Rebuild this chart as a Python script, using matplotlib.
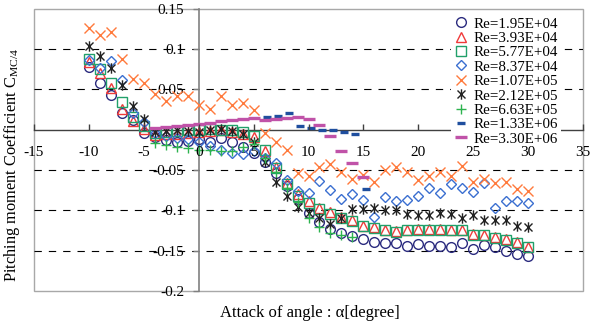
import matplotlib.pyplot as plt
from matplotlib.patches import Rectangle
from matplotlib.path import Path

plt.rcParams["font.family"] = ["Liberation Serif", "DejaVu Serif"]
plt.rcParams["mathtext.fontset"] = "custom"
plt.rcParams["mathtext.rm"] = "Liberation Serif"
plt.rcParams["axes.unicode_minus"] = False

# angle of attack [deg] for the low-Re runs
alpha = list(range(-10, 31))

cm_195e4 = [0.077, 0.058, 0.043, 0.021, 0.012, -0.004, -0.009, -0.013, -0.016, -0.014,
            -0.012, -0.016, -0.010, -0.016, -0.021, -0.029, -0.040, -0.054, -0.070, -0.086,
            -0.103, -0.114, -0.123, -0.128, -0.132, -0.136, -0.139, -0.140, -0.140, -0.144,
            -0.142, -0.144, -0.144, -0.146, -0.141, -0.148, -0.143, -0.145, -0.150, -0.154,
            -0.157]
cm_393e4 = [0.084, 0.070, 0.051, 0.026, 0.011, 0.001, -0.007, -0.006, -0.005, -0.004,
            -0.003, -0.002, -0.001, -0.003, -0.005, -0.009, -0.026, -0.046, -0.066, -0.080,
            -0.089, -0.097, -0.102, -0.108, -0.112, -0.119, -0.121, -0.124, -0.126, -0.124,
            -0.123, -0.123, -0.123, -0.124, -0.124, -0.129, -0.130, -0.133, -0.136, -0.139,
            -0.145]
cm_577e4 = [0.087, 0.075, 0.058, 0.034, 0.015, 0.004, -0.004, -0.003, -0.002, -0.001,
            0.000, 0.001, 0.000, 0.000, -0.003, -0.008, -0.025, -0.047, -0.068, -0.082,
            -0.091, -0.099, -0.104, -0.109, -0.113, -0.120, -0.122, -0.125, -0.127, -0.125,
            -0.124, -0.124, -0.124, -0.125, -0.125, -0.130, -0.131, -0.134, -0.137, -0.141,
            -0.146]
cm_837e4 = [0.086, 0.076, 0.085, 0.062, 0.021, 0.009, -0.004, -0.008, -0.010, -0.012,
            -0.016, -0.020, -0.025, -0.029, -0.030, -0.027, -0.035, -0.041, -0.062, -0.076,
            -0.078, -0.064, -0.075, -0.086, -0.080, -0.087, -0.108, -0.084, -0.089, -0.087,
            -0.082, -0.072, -0.078, -0.067, -0.072, -0.077, -0.066, -0.097, -0.088, -0.088,
            -0.091]
cm_107e5 = [0.126, 0.117, 0.121, 0.088, 0.063, 0.058, 0.044, 0.036, 0.041, 0.041,
            0.030, 0.026, 0.042, 0.031, 0.033, 0.024, -0.004, -0.016, -0.025, -0.054,
            -0.058, -0.046, -0.043, -0.053, -0.061, -0.056, -0.065, -0.050, -0.046, -0.053,
            -0.063, -0.057, -0.053, -0.058, -0.045, -0.065, -0.061, -0.066, -0.065, -0.074,
            -0.076]
cm_212e5 = [0.104, 0.091, 0.076, 0.055, 0.029, 0.013, -0.003, -0.002, -0.001, -0.002,
            -0.003, -0.001, 0.001, -0.002, -0.006, -0.016, -0.040, -0.065, -0.082, -0.096,
            -0.103, -0.110, -0.117, -0.110, -0.099, -0.098, -0.097, -0.100, -0.100, -0.105,
            -0.106, -0.106, -0.103, -0.105, -0.109, -0.106, -0.112, -0.112, -0.112, -0.119,
            -0.121]

alpha_663e5 = list(range(-4, 15))
cm_663e5 = [-0.017, -0.019, -0.021, -0.023, -0.025, -0.025, -0.026, -0.026, -0.022, -0.018,
            -0.035, -0.053, -0.072, -0.090, -0.109, -0.121, -0.128, -0.131, -0.133]

alpha_133e6 = [6.2, 7.2, 8.2, 9.2, 10.2, 11.2, 12.2, 13.2, 14.2, 15.2]
cm_133e6 = [0.016, 0.017, 0.020, 0.005, 0.002, -0.001, -0.001, -0.003, -0.006, -0.074]

alpha_330e6 = list(range(-4, 16))
cm_330e6 = [0.002, 0.003, 0.005, 0.006, 0.007, 0.008, 0.010, 0.012, 0.013, 0.014,
            0.012, 0.013, 0.014, 0.015, 0.013, 0.006, -0.008, -0.027, -0.042, -0.059]

# Excel-style "star": an x with a vertical bar through it
ASTERISK = Path([(-1, -1), (1, 1), (-1, 1), (1, -1), (0, -1.3), (0, 1.3)],
                [Path.MOVETO, Path.LINETO] * 3)

series = [
    (alpha, cm_195e4, "Re=1.95E+04", "o", "#2B2B7F", 7.0, 1.0),
    (alpha, cm_393e4, "Re=3.93E+04", "^", "#F03A3A", 7.0, 1.0),
    (alpha, cm_577e4, "Re=5.77E+04", "s", "#21A06A", 6.5, 1.0),
    (alpha, cm_837e4, "Re=8.37E+04", "D", "#3B6FD0", 5.0, 1.0),
    (alpha, cm_107e5, "Re=1.07E+05", "x", "#FF7A3C", 7.5, 1.0),
    (alpha, cm_212e5, "Re=2.12E+05", ASTERISK, "#222222", 7.5, 1.0),
    (alpha_663e5, cm_663e5, "Re=6.63E+05", "+", "#2DB34F", 7.5, 1.0),
    (alpha_133e6, cm_133e6, "Re=1.33E+06", "_", "#1F4E9E", 5.5, 2.4),
    (alpha_330e6, cm_330e6, "Re=3.30E+06", "_", "#C052A8", 8.0, 2.4),
]

fig = plt.figure(figsize=(5.9, 3.27), dpi=100)
ax = fig.add_axes([34 / 590, 1 - 291 / 327, (583 - 34) / 590, (291 - 8.5) / 327])
ax.set_xlim(-15, 35)
ax.set_ylim(-0.2, 0.15)

for y in [0.1, 0.05, -0.05, -0.1, -0.15]:
    ax.axhline(y, color="black", lw=0.8, ls=(0, (6.6, 6.3)), zorder=1)

for x, y, label, marker, color, ms, mew in series:
    ax.plot(x, y, linestyle="none", marker=marker, markersize=ms, markeredgewidth=mew,
            markerfacecolor="none", markeredgecolor=color, label=label, zorder=3)

# axes cross at the origin, frame drawn separately
for side in ["top", "right"]:
    ax.spines[side].set_visible(False)
ax.spines["left"].set_position(("data", 0))
ax.spines["bottom"].set_position(("data", 0))
ax.spines["left"].set_color("#808080")
ax.spines["left"].set_linewidth(1.2)
ax.spines["bottom"].set_color("#404040")
ax.spines["bottom"].set_linewidth(1.0)
ax.add_patch(Rectangle((0, 0), 1, 1, transform=ax.transAxes, fill=False,
                       edgecolor="#A8A8A8", lw=1.0, clip_on=False, zorder=0.5))

xticks = list(range(-15, 36, 5))
yticks = [0.15, 0.1, 0.05, -0.05, -0.1, -0.15, -0.2]
ytick_labels = ["0.15", "0.1", "0.05", "-0.05", "-0.1", "-0.15", "-0.2"]
ax.set_xticks(xticks)
ax.set_xticklabels([str(t) for t in xticks])
ax.set_yticks(yticks)
ax.set_yticklabels(ytick_labels)
ax.tick_params(axis="x", direction="in", length=4.5, width=1, color="#404040",
               pad=12, labelsize=11)
ax.tick_params(axis="y", direction="out", length=4.5, width=1, color="#808080",
               pad=6, labelsize=11)
# keep the x tick labels readable where the legend box reaches down to them,
# but don't let the tick marks poke through the legend text
ax.xaxis.set_zorder(6)
for tick, loc in zip(ax.xaxis.get_major_ticks(), xticks):
    if loc in (25, 30):
        tick.tick1line.set_visible(False)

fig.text(12 / 590, 1 - 165 / 327, r"Pitching moment Coefficient C$_{\mathrm{MC/4}}$",
         rotation=90, ha="center", va="center", fontsize=11.8)
fig.text(310 / 590, 1 - 313 / 327, "Attack of angle : α[degree]",
         ha="center", va="center", fontsize=12)

leg = ax.legend(loc="upper left", bbox_to_anchor=(451 / 590, 1 - 14 / 327),
                bbox_transform=fig.transFigure, fontsize=10.8, labelspacing=0.06,
                handlelength=0.9, handletextpad=0.4, borderpad=0.2,
                borderaxespad=0, fancybox=False, framealpha=1, facecolor="white",
                edgecolor="none")
leg.set_zorder(5)

fig.savefig("out.png", dpi=100)
